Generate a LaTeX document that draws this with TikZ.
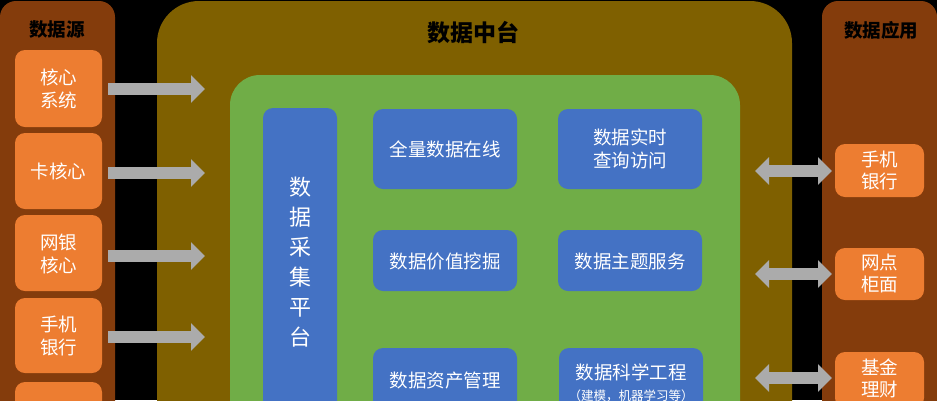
\documentclass[tikz,border=0pt]{standalone}
\usepackage{fontspec}
\setmainfont{Noto Sans CJK SC}
\usetikzlibrary{arrows.meta}
\definecolor{panelbrown}{HTML}{843C0C}
\definecolor{boxorange}{HTML}{ED7D31}
\definecolor{olive}{HTML}{7F6000}
\definecolor{midgreen}{HTML}{70AD47}
\definecolor{boxblue}{HTML}{4472C4}
\definecolor{arrowgrey}{HTML}{ABABAB}
\newcommand\lowtext[2][3pt]{\raisebox{-#1}[\height][\depth]{\begin{tabular}{@{}c@{}}#2\end{tabular}}}
\begin{document}
\begin{tikzpicture}[x=1pt,y=-1pt,
  base/.style={inner sep=0pt, outer sep=0pt, draw=none},
  sidepanel/.style={base, fill=panelbrown, rounded corners=16pt, anchor=north west},
  srcbox/.style={base, fill=boxorange, rounded corners=10pt, text=white, align=center,
    font=\fontsize{18.5}{23}\selectfont},
  appbox/.style={srcbox, font=\fontsize{18.5}{21}\selectfont, minimum width=89pt},
  bluebox/.style={base, fill=boxblue, rounded corners=10pt, text=white, align=center,
    font=\fontsize{18.5}{23}\selectfont, minimum width=144pt},
  titletext/.style={text=black, font=\bfseries\fontsize{18.5}{22}\selectfont},
  fat/.style={line width=12pt, draw=arrowgrey, -{Triangle[width=27pt,length=14pt]}},
  dfat/.style={line width=12pt, draw=arrowgrey,
    {Triangle[width=27pt,length=14pt]}-{Triangle[width=27pt,length=14pt]}}]
\useasboundingbox (0,0) rectangle (937,400);
\clip (0,0) rectangle (937,400);
\fill[black] (0,0) rectangle (937,400);

% panels
\node[sidepanel, minimum width=115pt, minimum height=480pt] (srcpanel) at (0,1) {};
\node[sidepanel, minimum width=115pt, minimum height=480pt] (apppanel) at (822,1) {};
\node[base, fill=olive, rounded corners=42pt, anchor=north west,
  minimum width=635pt, minimum height=500pt] (midpanel) at (157,1) {};
\node[base, fill=midgreen, rounded corners=30pt, anchor=north west,
  minimum width=510pt, minimum height=480pt] (greenpanel) at (230,75) {};

% titles
\node[titletext] (srctitle) at (57,30) {数据源};
\node[titletext] (apptitle) at (881,30) {数据应用};
\node[titletext, font=\bfseries\fontsize{23}{26}\selectfont] (midtitle) at (473,33) {数据中台};

% source boxes
\node[srcbox, minimum width=87pt, minimum height=77pt] (s1) at (58.5,88.5) {\lowtext{核心\\系统}};
\node[srcbox, minimum width=87pt, minimum height=76pt] (s2) at (58.5,171) {\lowtext{卡核心}};
\node[srcbox, minimum width=87pt, minimum height=76pt] (s3) at (58.5,253) {\lowtext{网银\\核心}};
\node[srcbox, minimum width=87pt, minimum height=75pt] (s4) at (58.5,335.5) {\lowtext{手机\\银行}};
\node[srcbox, minimum width=87pt, minimum height=77pt] (s5) at (58.5,420.5) {};

% application boxes
\node[appbox, minimum height=53pt] (r1) at (879.5,170.5) {\lowtext[2pt]{手机\\银行}};
\node[appbox, minimum height=52pt] (r2) at (879.5,274) {\lowtext[2pt]{网点\\柜面}};
\node[appbox, minimum height=56pt] (r3) at (879.5,380) {\lowtext[1pt]{基金\\理财}};

% collection platform
\node[base, fill=boxblue, rounded corners=10pt, text=white, align=center,
  minimum width=74pt, minimum height=308pt,
  font=\fontsize{22}{30}\selectfont] (collect) at (300,262) {数\\据\\采\\集\\平\\台};

% blue boxes
\node[bluebox, minimum height=80pt] (b11) at (445,149) {\lowtext{全量数据在线}};
\node[bluebox, minimum height=61pt] (b12) at (445,260.5) {\lowtext{数据价值挖掘}};
\node[bluebox, minimum height=68pt] (b13) at (445,382) {\lowtext[1pt]{数据资产管理}};
\node[bluebox, minimum height=80pt] (b21) at (630,149) {\lowtext[2pt]{数据实时\\查询访问}};
\node[bluebox, minimum height=61pt] (b22) at (630,260.5) {\lowtext{数据主题服务}};
\node[bluebox, minimum height=70pt] (b23) at (631,383)
  {\fontsize{18.5}{19}\selectfont 数据科学工程\\[-2pt]{\fontsize{12.5}{14}\selectfont （建模，机器学习等）}};

% arrow end points
\coordinate (m1) at (205,89);
\coordinate (m2) at (205,173);
\coordinate (m3) at (205,256);
\coordinate (m4) at (205,337);
\coordinate (n1) at (755,171);
\coordinate (n2) at (755,274);
\coordinate (n3) at (755,378);

\draw[fat] ([xshift=6pt]m1 -| s1.east) -- (m1);
\draw[fat] ([xshift=6pt]m2 -| s2.east) -- (m2);
\draw[fat] ([xshift=6pt]m3 -| s3.east) -- (m3);
\draw[fat] ([xshift=6pt]m4 -| s4.east) -- (m4);
\draw[dfat] (n1) -- ([xshift=-3pt]n1 -| r1.west);
\draw[dfat] (n2) -- ([xshift=-3pt]n2 -| r2.west);
\draw[dfat] (n3) -- ([xshift=-3pt]n3 -| r3.west);
\end{tikzpicture}
\end{document}
